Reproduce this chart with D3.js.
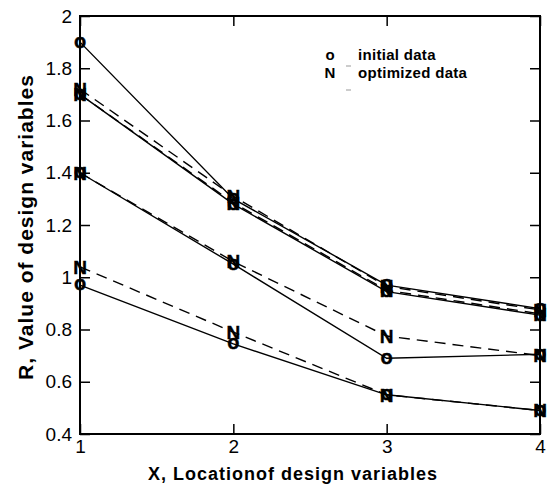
<!DOCTYPE html>
<html>
<head>
<meta charset="utf-8">
<script src="https://cdn.jsdelivr.net/npm/d3@7"></script>
<style>
  body { margin: 0; background: #fff; }
  text { font-family: "Liberation Sans", Arial, sans-serif; }
</style>
</head>
<body>
<div id="chart"></div>
<script>
const xs = [1, 2, 3, 4];
const yTicks = [0.4, 0.6, 0.8, 1, 1.2, 1.4, 1.6, 1.8, 2];

// initial data (solid, "o")
const init1 = [1.90, 1.30, 0.97, 0.88];
const init2 = [1.70, 1.28, 0.945, 0.855];
const init3 = [1.40, 1.05, 0.69, 0.705];
const init4 = [0.97, 0.745, 0.55, 0.49];

// optimized data (dashed, "N")
const opt1 = [1.72, 1.31, 0.965, 0.875];
const opt2 = [1.70, 1.285, 0.95, 0.86];
const opt3 = [1.40, 1.06, 0.775, 0.70];
const opt4 = [1.04, 0.79, 0.55, 0.49];

const legendMarks = ["o", "N"];
const legendLabels = ["initial data", "optimized data"];

const width = 553,
  height = 487,
  margin = { top: 16, right: 13, bottom: 53, left: 80 };

const svg = d3.select("#chart").append("svg")
  .attr("width", width)
  .attr("height", height);

const x = d3.scaleLinear().domain([1, 4]).range([margin.left, width - margin.right]);
const y = d3.scaleLinear().domain([0.4, 2]).range([height - margin.bottom, margin.top]);

const line = d3.line()
  .x((d, i) => x(xs[i]))
  .y(d => y(d));

const series = [
  { values: init1, dash: null, mark: "o" },
  { values: init2, dash: null, mark: "o" },
  { values: init3, dash: null, mark: "o" },
  { values: init4, dash: null, mark: "o" },
  { values: opt1, dash: "11,7", mark: "N" },
  { values: opt2, dash: "11,7", mark: "N" },
  { values: opt3, dash: "11,7", mark: "N" },
  { values: opt4, dash: "11,7", mark: "N" }
];

const g = svg.append("g");

g.selectAll("path.data")
  .data(series)
  .enter()
  .append("path")
  .attr("class", "data")
  .attr("d", d => line(d.values))
  .style("fill", "none")
  .style("stroke", "#000")
  .style("stroke-width", 1.4)
  .style("stroke-dasharray", d => d.dash);

// markers drawn as glyphs, like the original
series.forEach(s => {
  g.selectAll(null)
    .data(s.values)
    .enter()
    .append("text")
    .attr("x", (d, i) => x(xs[i]))
    .attr("y", d => y(d))
    .attr("dy", s.mark === "o" ? "0.27em" : "0.36em")
    .attr("text-anchor", "middle")
    .style("font-size", s.mark === "o" ? "20px" : "19px")
    .style("font-weight", "bold")
    .style("stroke", "#000")
    .style("stroke-width", 0.4)
    .text(s.mark);
});

// axes, ticks pointing inward
const axisFont = sel => sel.selectAll("text")
  .style("font-size", "19px")
  .style("font-family", "'Liberation Sans', Arial, sans-serif")
  .attr("fill", "#000");

svg.append("g")
  .attr("transform", "translate(0," + y(0.4) + ")")
  .call(d3.axisBottom(x).tickValues(xs).tickFormat(d3.format("d"))
    .tickSizeInner(-10).tickSizeOuter(0).tickPadding(6))
  .call(axisFont);

svg.append("g")
  .attr("transform", "translate(0," + y(2) + ")")
  .call(d3.axisTop(x).tickValues(xs).tickFormat("")
    .tickSizeInner(-10).tickSizeOuter(0));

svg.append("g")
  .attr("transform", "translate(" + x(1) + ",0)")
  .call(d3.axisLeft(y).tickValues(yTicks).tickFormat(d => d3.format("")(+d.toFixed(1)))
    .tickSizeInner(-10).tickSizeOuter(0).tickPadding(8))
  .call(axisFont);

svg.append("g")
  .attr("transform", "translate(" + x(4) + ",0)")
  .call(d3.axisRight(y).tickValues(yTicks).tickFormat("")
    .tickSizeInner(-10).tickSizeOuter(0));

svg.selectAll(".domain").remove();
svg.selectAll(".tick line").attr("stroke", "#000").attr("stroke-width", 1.5);

svg.append("rect")
  .attr("x", x(1))
  .attr("y", y(2))
  .attr("width", x(4) - x(1))
  .attr("height", y(0.4) - y(2))
  .style("fill", "none")
  .style("stroke", "#000")
  .style("stroke-width", 2);

// axis titles
svg.append("text")
  .attr("x", 293)
  .attr("y", 480)
  .attr("text-anchor", "middle")
  .style("font-size", "18px")
  .style("font-weight", "bold")
  .style("letter-spacing", "1px")
  .text("X, Locationof design variables");

svg.append("text")
  .attr("transform", "translate(33,227) rotate(-90)")
  .attr("text-anchor", "middle")
  .style("font-size", "21px")
  .style("font-weight", "bold")
  .style("letter-spacing", "1px")
  .text("R, Value of design variables");

// legend
const legend = svg.append("g").attr("transform", "translate(330,0)");
legend.selectAll("text.mark")
  .data(legendMarks)
  .enter()
  .append("text")
  .attr("x", 0)
  .attr("y", (d, i) => 60 + i * 18)
  .attr("text-anchor", "middle")
  .style("font-size", "15px")
  .style("font-weight", "bold")
  .text(d => d);
legend.selectAll("text.lab")
  .data(legendLabels)
  .enter()
  .append("text")
  .attr("x", 28)
  .attr("y", (d, i) => 60 + i * 18)
  .style("font-size", "15px")
  .style("font-weight", "bold")
  .style("letter-spacing", "0.3px")
  .text(d => d);
legend.selectAll("line.sample")
  .data([66, 90])
  .enter()
  .append("line")
  .attr("x1", 16).attr("x2", 21)
  .attr("y1", d => d).attr("y2", d => d)
  .style("stroke", "#999")
  .style("stroke-width", 1);
</script>
</body>
</html>
